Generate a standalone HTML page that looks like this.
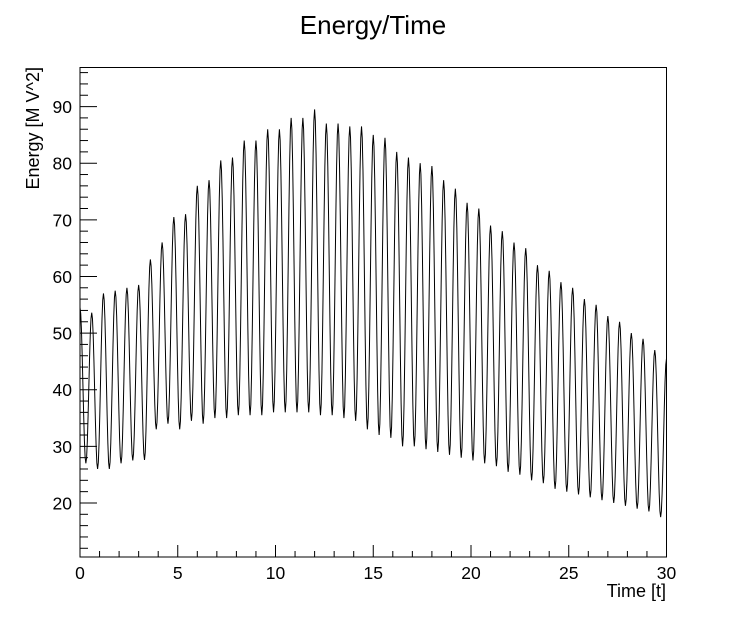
<!DOCTYPE html>
<html><head><meta charset="utf-8"><style>
html,body{margin:0;padding:0;background:#fff;}
svg{display:block;font-family:"Liberation Sans",Arial,sans-serif;}
</style></head><body>
<svg id="chart" width="748" height="626">
<rect x="0" y="0" width="748" height="626" fill="#fff"/>
<text x="373" y="34" font-size="26" text-anchor="middle">Energy/Time</text>
<g id="axes"></g>
<path id="series" fill="none" stroke="#000" stroke-width="1"/>
<rect x="80" y="67.5" width="586.5" height="489.5" fill="none" stroke="#000" stroke-width="1"/>
<text x="666" y="597" font-size="18" text-anchor="end">Time [t]</text>
<text transform="translate(39,67) rotate(-90)" font-size="18" text-anchor="end">Energy [M V^2]</text>
</svg>
<script>
const xTicks=[0,5,10,15,20,25,30];
const yTicks=[20,30,40,50,60,70,80,90];
const peakTimes=[0,0.6,1.2,1.8,2.4,3.0,3.6,4.2,4.8,5.4,6.0,6.6,7.2,7.8,8.4,9.0,9.6,10.2,10.8,11.4,12.0,12.6,13.2,13.8,14.4,15.0,15.6,16.2,16.8,17.4,18.0,18.6,19.2,19.8,20.4,21.0,21.6,22.2,22.8,23.4,24.0,24.6,25.2,25.8,26.4,27.0,27.6,28.2,28.8,29.4,30.0];
const peakValues=[54.5,53.6,57,57.5,58,58.5,63,66,70.5,71,76,77,80.5,81,84,84,86,86,88,88,89.5,87,87,86.5,86.5,85,84.5,82,81,80,79.5,77,75.5,73,72,69,68,66,65,62,61,59,58,56,55,53,52,50,49,47,45.5];
const troughTimes=[0.3,0.9,1.5,2.1,2.7,3.3,3.9,4.5,5.1,5.7,6.3,6.9,7.5,8.1,8.7,9.3,9.9,10.5,11.1,11.7,12.3,12.9,13.5,14.1,14.7,15.3,15.9,16.5,17.1,17.7,18.3,18.9,19.5,20.1,20.7,21.3,21.9,22.5,23.1,23.7,24.3,24.9,25.5,26.1,26.7,27.3,27.9,28.5,29.1,29.7];
const troughValues=[27,26,26,27,27.5,27.6,33,34,33,34.5,34,35,35,35.5,35.5,35.5,36,36,36,36,35.5,35.5,35,34.5,33,32,31.5,30,30,29.5,29,28.5,28,27.5,27,26.5,25.5,25,24,23.5,22.5,22,21.5,21,20.5,20,19.5,19,18.5,17.5];

const X0=80,X1=666.5,Y0=557,Y1=67.5,xmin=0,xmax=30,ymin=10.46,ymax=96.9;
const sx=t=>X0+(t-xmin)/(xmax-xmin)*(X1-X0);
const sy=v=>Y0-(v-ymin)/(ymax-ymin)*(Y0-Y1);
const NS="http://www.w3.org/2000/svg";
const axes=document.getElementById('axes');
function mk(tag,attrs){const e=document.createElementNS(NS,tag);for(const k in attrs)e.setAttribute(k,attrs[k]);axes.appendChild(e);return e;}
for(let t=xmin;t<=xmax;t+=1){
  const major=t%5===0;
  const l=mk('line',{x1:sx(t),x2:sx(t),y1:Y0,y2:Y0-(major?12:6),stroke:'#000','stroke-width':1});
  
  
}
xTicks.forEach(t=>{
  const tx=mk('text',{x:sx(t),y:579,'font-size':17.5,'text-anchor':'middle'});
  tx.textContent=t;
  
  
});
for(let v=12;v<=96;v+=2){
  const major=v%10===0;
  const l=mk('line',{x1:X0,x2:X0+(major?17:8),y1:sy(v),y2:sy(v),stroke:'#000','stroke-width':1});
  
  
}
yTicks.forEach(v=>{
  const tx=mk('text',{x:72,y:sy(v)+6.5,'font-size':17.5,'text-anchor':'end'});
  tx.textContent=v;
  
  
});
const ext=[];
peakTimes.forEach((t,i)=>ext.push([t,peakValues[i]]));
troughTimes.forEach((t,i)=>ext.push([t,troughValues[i]]));
ext.sort((a,b)=>a[0]-b[0]);
let d='';
for(let i=0;i<ext.length-1;i++){
  const [t0,v0]=ext[i],[t1,v1]=ext[i+1];
  const n=8;
  for(let k=(i===0?0:1);k<=n;k++){
    const f=k/n,t=t0+(t1-t0)*f,v=v0+(v1-v0)*(1-Math.cos(Math.PI*f))/2;
    d+=(d?'L':'M')+sx(t).toFixed(2)+','+sy(v).toFixed(2);
  }
}
document.getElementById('series').setAttribute('d',d);
</script>
</body></html>
